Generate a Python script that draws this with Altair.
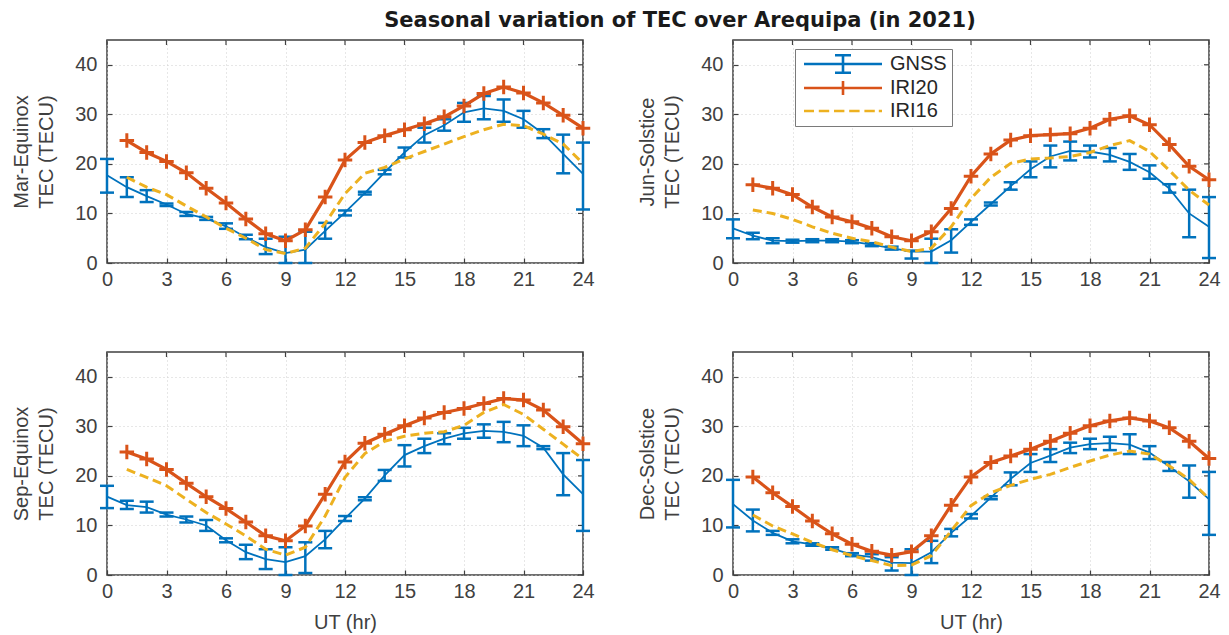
import altair as alt
import pandas as pd

# Hours of day (UT)
HOURS_GNSS = list(range(0, 25))
HOURS_IRI = list(range(1, 25))

SEASONS = ["Mar-Equinox", "Jun-Solstice", "Sep-Equinox", "Dec-Solstice"]

# GNSS mean TEC and its lower/upper spread (TECU), hours 0..24
MAR_GNSS = [17.7, 15.3, 13.5, 11.8, 9.9, 9.0, 7.4, 5.2, 3.2, 2.0, 2.7, 6.5, 10.2,
            14.1, 18.3, 22.3, 25.8, 27.8, 30.4, 31.2, 30.7, 29.0, 26.1, 22.0, 18.0]
MAR_LO = [14.2, 13.3, 12.3, 11.5, 9.5, 8.7, 6.9, 4.8, 1.8, 0.0, 0.0, 4.9, 9.6,
          13.8, 17.9, 21.3, 24.3, 26.7, 28.5, 29.0, 28.5, 27.3, 25.2, 18.1, 10.8]
MAR_HI = [21.0, 17.3, 14.7, 12.0, 10.3, 9.3, 8.0, 5.7, 4.9, 5.3, 6.3, 8.1, 10.6,
          14.4, 18.8, 23.3, 27.3, 29.0, 32.3, 33.7, 33.0, 30.7, 27.0, 25.9, 24.3]

JUN_GNSS = [7.0, 5.5, 4.5, 4.4, 4.5, 4.5, 4.3, 3.7, 3.0, 2.3, 2.3, 4.6, 8.3,
            11.9, 15.5, 18.9, 21.5, 22.6, 22.5, 21.8, 20.4, 18.3, 15.0, 10.0, 7.3]
JUN_LO = [5.0, 4.8, 4.0, 4.1, 4.2, 4.2, 4.0, 3.4, 2.7, 0.9, 0.0, 2.1, 7.7,
          11.6, 14.8, 17.3, 19.3, 20.7, 21.3, 20.5, 18.8, 17.0, 14.2, 5.2, 1.0]
JUN_HI = [8.8, 6.1, 5.0, 4.7, 4.8, 4.8, 4.6, 4.0, 3.3, 2.5, 4.9, 6.8, 8.8,
          12.2, 16.3, 20.5, 23.7, 24.5, 23.7, 23.2, 22.0, 19.7, 15.9, 14.8, 13.3]

SEP_GNSS = [15.8, 14.1, 13.7, 12.2, 11.2, 10.0, 7.0, 4.6, 3.2, 2.6, 3.8, 7.2, 11.4,
            15.4, 20.1, 24.2, 26.0, 27.5, 28.6, 29.1, 28.9, 28.1, 25.7, 20.3, 16.3]
SEP_LO = [13.5, 13.3, 12.6, 11.8, 10.6, 8.9, 6.6, 3.2, 1.2, 0.0, 0.4, 5.4, 10.9,
          15.1, 19.0, 21.9, 24.6, 26.4, 27.5, 27.7, 26.8, 26.0, 25.4, 16.1, 8.9]
SEP_HI = [18.0, 15.0, 14.8, 12.6, 11.8, 11.1, 7.4, 6.1, 5.2, 5.6, 6.6, 8.9, 11.9,
          15.7, 21.2, 26.2, 27.5, 28.6, 29.7, 30.4, 30.9, 30.2, 26.0, 24.6, 23.2]

DEC_GNSS = [14.3, 11.0, 8.5, 6.8, 6.2, 5.3, 4.1, 3.6, 2.5, 2.4, 4.6, 8.5, 11.9,
            15.6, 19.4, 22.6, 24.1, 25.7, 26.4, 26.6, 26.3, 24.7, 21.9, 18.9, 15.3]
DEC_LO = [9.6, 8.8, 8.1, 6.4, 5.9, 5.1, 3.8, 2.9, 0.9, 0.0, 2.4, 7.8, 11.4,
          15.3, 18.1, 20.8, 22.8, 24.6, 25.4, 25.2, 24.4, 23.4, 21.0, 15.6, 8.1]
DEC_HI = [19.2, 13.2, 8.9, 7.2, 6.4, 5.6, 4.4, 4.2, 3.6, 5.2, 6.9, 9.3, 12.3,
          15.9, 20.7, 24.4, 25.4, 26.7, 27.5, 27.9, 28.4, 26.0, 22.8, 22.1, 20.8]

# IRI-2020 and IRI-2016 model TEC (TECU), hours 1..24
MAR_IRI20 = [24.7, 22.3, 20.5, 18.2, 15.1, 12.1, 8.9, 5.9, 4.5, 6.7, 13.3, 20.8,
             24.3, 25.7, 26.9, 28.1, 29.5, 31.7, 34.2, 35.5, 34.3, 32.3, 29.8, 27.2]
MAR_IRI16 = [17.3, 15.3, 13.8, 11.5, 9.3, 7.0, 5.0, 2.7, 1.9, 3.0, 8.0, 14.0,
             18.1, 19.3, 21.0, 22.5, 24.0, 25.5, 26.9, 28.0, 27.7, 26.0, 24.0, 20.1]
JUN_IRI20 = [15.8, 15.1, 13.8, 11.3, 9.3, 8.3, 7.0, 5.3, 4.5, 6.3, 11.0, 17.5,
             22.0, 24.8, 25.7, 25.9, 26.1, 27.2, 29.0, 29.7, 27.9, 23.9, 19.5, 16.8]
JUN_IRI16 = [10.7, 10.0, 8.8, 7.3, 6.0, 5.0, 4.3, 3.2, 2.3, 3.0, 7.3, 13.0,
             17.3, 20.1, 21.0, 21.2, 21.5, 22.3, 23.7, 24.7, 22.5, 18.7, 14.7, 11.7]
SEP_IRI20 = [24.8, 23.4, 21.3, 18.5, 15.8, 13.4, 10.7, 7.9, 6.9, 9.9, 16.3, 22.8,
             26.6, 28.4, 30.1, 31.7, 32.8, 33.6, 34.6, 35.6, 35.3, 33.3, 29.9, 26.5]
SEP_IRI16 = [21.3, 19.7, 18.0, 15.3, 12.6, 10.3, 7.9, 5.2, 4.0, 5.6, 11.9, 19.7,
             24.5, 27.0, 28.0, 28.6, 28.9, 30.2, 32.8, 34.4, 32.4, 29.4, 26.4, 23.4]
DEC_IRI20 = [19.8, 16.6, 13.8, 10.9, 8.3, 6.2, 4.8, 4.0, 4.7, 7.9, 14.1, 19.8,
             22.7, 24.0, 25.4, 27.0, 28.6, 30.1, 31.1, 31.7, 31.1, 29.7, 27.0, 23.5]
DEC_IRI16 = [12.1, 9.9, 8.3, 6.6, 5.1, 3.9, 2.9, 1.9, 2.0, 3.9, 8.9, 14.0,
             16.6, 18.1, 19.3, 20.3, 21.7, 23.0, 24.2, 25.0, 24.4, 22.0, 19.3, 15.4]

SERIES = ["GNSS", "IRI20", "IRI16"]
X_TICKS = list(range(0, 25, 3))
Y_TICKS = [0, 10, 20, 30, 40]

BLUE = "#0072BD"
RED = "#D95319"
YELLOW = "#EDB120"
FRAME = "#404040"
TEXT = "#404040"
FONT = "Liberation Sans"

PANEL_W = 476
PANEL_H = 223
TICK_LEN = 5

# marker and legend glyphs (SVG paths, unit = half symbol width)
PLUS = "M-1,0L1,0M0,-1L0,1"
LEG_GNSS = ("M-0.75,0L9,0M4.125,-1.1L4.125,1.1"
            "M3.125,-1.1L5.125,-1.1M3.125,1.1L5.125,1.1")
LEG_IRI20 = "M-0.75,0L9,0M3.25,0L5,0M4.125,-0.875L4.125,0.875"
LEG_IRI16 = ("M-0.75,0L0.5,0M1.1,0L2.4,0M3,0L4.3,0M4.9,0L6.2,0"
             "M6.8,0L8.1,0M8.6,0L9,0")


def panel(season, gnss, lo, hi, iri20, iri16, bottom_row, with_legend=False):
    g = pd.DataFrame({"hour": HOURS_GNSS, "tec": gnss, "lo": lo, "hi": hi})
    m = pd.DataFrame({"hour": HOURS_IRI, "iri20": iri20, "iri16": iri16})

    x_scale = alt.Scale(domain=[0, 24], nice=False, zero=False)
    y_scale = alt.Scale(domain=[0, 45], nice=False, zero=False)
    # axes are pulled inside the frame so that their ticks point inwards
    x_axis = alt.Axis(values=X_TICKS, title="UT (hr)" if bottom_row else None,
                      grid=True, domain=False, offset=-TICK_LEN, tickSize=TICK_LEN,
                      labelPadding=6, titlePadding=11, labelFlush=False)
    y_axis = alt.Axis(values=Y_TICKS, title=[season, "TEC (TECU)"],
                      grid=True, domain=False, offset=-TICK_LEN, tickSize=TICK_LEN,
                      labelPadding=10, titlePadding=18, titleLineHeight=25)

    gnss_line = alt.Chart(g).mark_line(color=BLUE, strokeWidth=1.8).encode(
        x=alt.X("hour:Q", scale=x_scale, axis=x_axis),
        y=alt.Y("tec:Q", scale=y_scale, axis=y_axis),
    )
    gnss_bars = alt.Chart(g).mark_rule(color=BLUE, strokeWidth=2.5).encode(
        x="hour:Q", y="lo:Q", y2="hi:Q",
    )
    gnss_caps = alt.Chart(g).transform_fold(
        ["lo", "hi"], as_=["end", "value"]
    ).mark_tick(orient="horizontal", color=BLUE, size=14, thickness=2.5,
                opacity=1).encode(
        x="hour:Q", y="value:Q",
    )
    iri20_line = alt.Chart(m).mark_line(color=RED, strokeWidth=3.2).encode(
        x="hour:Q", y="iri20:Q",
    )
    iri20_pts = alt.Chart(m).mark_point(
        shape=PLUS, size=210, color=RED, strokeWidth=3, filled=False, opacity=1
    ).encode(
        x="hour:Q", y="iri20:Q",
    )
    iri16_line = alt.Chart(m).mark_line(
        color=YELLOW, strokeWidth=3, strokeDash=[9, 5]
    ).encode(
        x="hour:Q", y="iri16:Q",
    )

    # inward ticks along the top and right edges of the box
    top_ticks = alt.Chart(pd.DataFrame({"hour": X_TICKS})).mark_rule(
        color=FRAME, strokeWidth=1.2
    ).encode(
        x="hour:Q", y=alt.value(0), y2=alt.value(TICK_LEN),
    )
    right_ticks = alt.Chart(pd.DataFrame({"tec": Y_TICKS})).mark_rule(
        color=FRAME, strokeWidth=1.2
    ).encode(
        y="tec:Q", x=alt.value(PANEL_W - TICK_LEN), x2=alt.value(PANEL_W),
    )

    layers = [gnss_line, top_ticks, right_ticks, gnss_bars, gnss_caps,
              iri20_line, iri20_pts, iri16_line]

    if with_legend:
        leg = alt.Legend(
            title=None, orient="none", legendX=688, legendY=9,
            fillColor="white", strokeColor="#7a7a7a", padding=5,
            labelFont=FONT, labelFontSize=20, labelColor="#262626",
            labelOffset=70, rowPadding=-4, symbolSize=256,
            symbolStrokeWidth=2.6, symbolFillColor="transparent",
        )
        key = pd.DataFrame({"series": SERIES})
        legend_layer = alt.Chart(key).transform_filter("false").mark_point(
            filled=False, opacity=1
        ).encode(
            color=alt.Color("series:N", legend=leg, scale=alt.Scale(
                domain=SERIES, range=[BLUE, RED, YELLOW])),
            shape=alt.Shape("series:N", legend=leg, scale=alt.Scale(
                domain=SERIES, range=[LEG_GNSS, LEG_IRI20, LEG_IRI16])),
        )
        layers.append(legend_layer)

    return alt.layer(*layers).properties(width=PANEL_W, height=PANEL_H)


mar = panel(SEASONS[0], MAR_GNSS, MAR_LO, MAR_HI, MAR_IRI20, MAR_IRI16, False)
jun = panel(SEASONS[1], JUN_GNSS, JUN_LO, JUN_HI, JUN_IRI20, JUN_IRI16, False,
            with_legend=True)
sep = panel(SEASONS[2], SEP_GNSS, SEP_LO, SEP_HI, SEP_IRI20, SEP_IRI16, True)
dec = panel(SEASONS[3], DEC_GNSS, DEC_LO, DEC_HI, DEC_IRI20, DEC_IRI16, True)

chart = alt.concat(
    mar, jun, sep, dec, columns=2,
    spacing=alt.RowColnumber(row=89, column=150), bounds="flush",
).properties(
    title=alt.TitleParams(
        "Seasonal variation of TEC over Arequipa (in 2021)",
        font="DejaVu Sans", fontSize=21, fontWeight="bold", color="#1a1a1a",
        anchor="middle", dx=63, offset=8,
    ),
    padding={"left": 11, "top": 9, "right": 5, "bottom": 5},
    background="white",
).configure_view(
    stroke=FRAME, strokeWidth=1.5,
).configure_axis(
    labelFont=FONT, titleFont=FONT, labelFontSize=20, titleFontSize=20,
    labelColor=TEXT, titleColor=TEXT, titleFontWeight="normal",
    tickColor=FRAME, tickWidth=1.2,
    gridColor="#cfcfcf", gridDash=[1, 3], gridWidth=1,
)

chart.save("out.html", embed_options={"renderer": "svg", "actions": False})
